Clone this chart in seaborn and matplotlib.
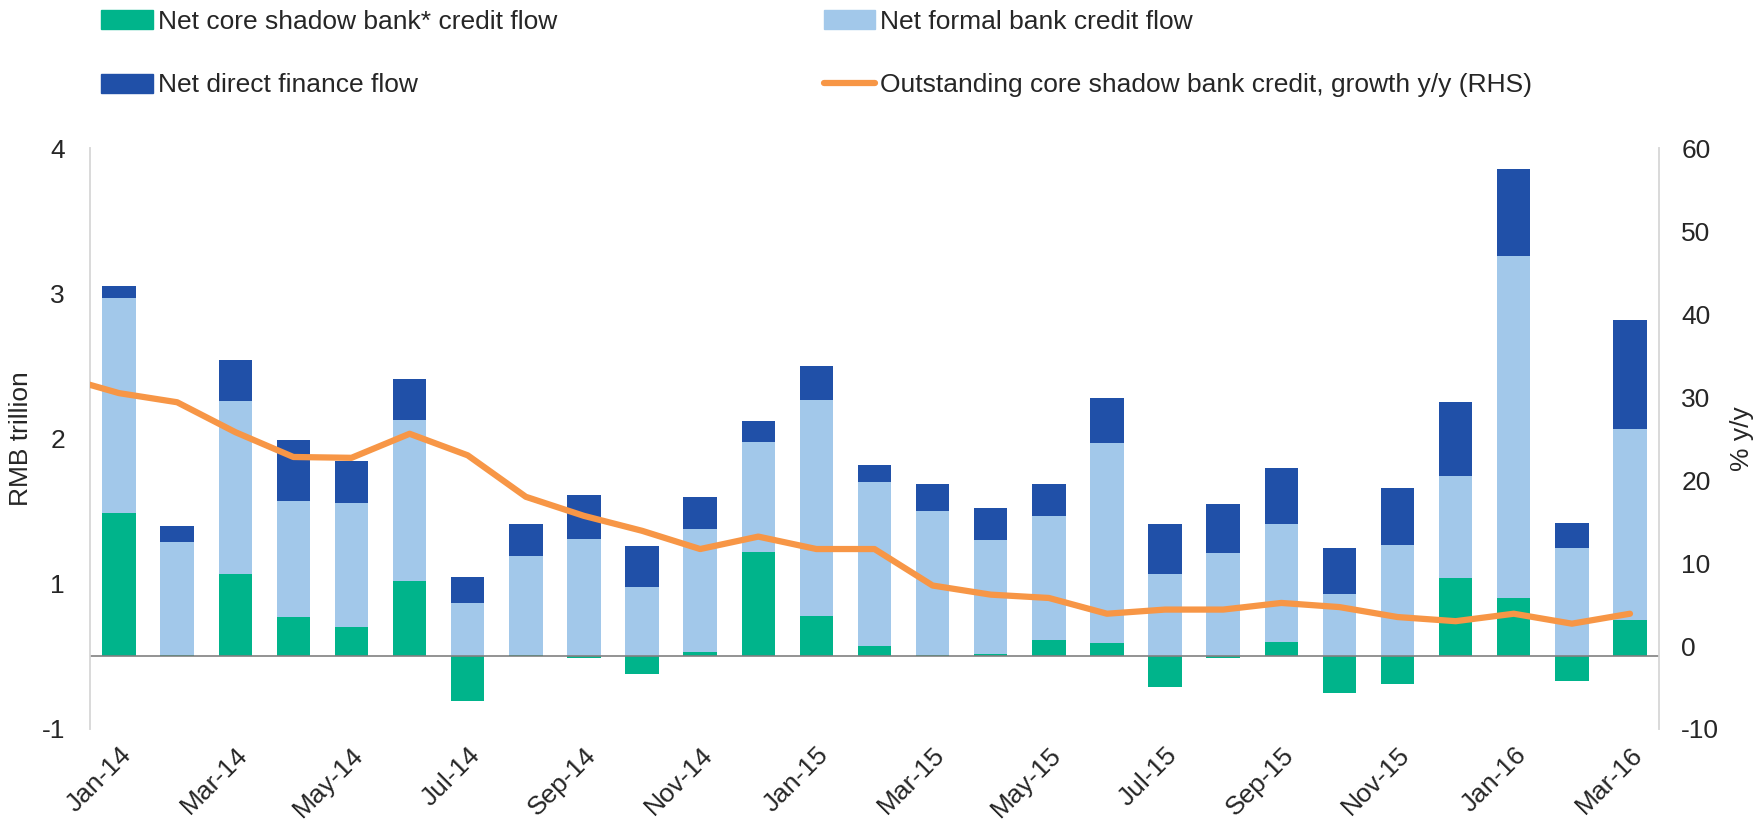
import numpy as np
import pandas as pd
import matplotlib
matplotlib.use("Agg")
import matplotlib.pyplot as plt
from matplotlib.patches import Patch
from matplotlib.lines import Line2D
import seaborn as sns

# Monthly credit flows, RMB trillion
months = ["Jan-14", "Feb-14", "Mar-14", "Apr-14", "May-14", "Jun-14", "Jul-14",
          "Aug-14", "Sep-14", "Oct-14", "Nov-14", "Dec-14", "Jan-15", "Feb-15",
          "Mar-15", "Apr-15", "May-15", "Jun-15", "Jul-15", "Aug-15", "Sep-15",
          "Oct-15", "Nov-15", "Dec-15", "Jan-16", "Feb-16", "Mar-16"]
shadow_flow = [0.99, 0.01, 0.57, 0.27, 0.20, 0.52, -0.31,
               0.01, -0.01, -0.12, 0.03, 0.72, 0.28, 0.07,
               0.01, 0.02, 0.11, 0.09, -0.21, -0.01, 0.10,
               -0.25, -0.19, 0.54, 0.40, -0.17, 0.25]
formal_flow = [1.48, 0.78, 1.19, 0.80, 0.86, 1.11, 0.37,
               0.68, 0.81, 0.48, 0.85, 0.76, 1.49, 1.13,
               0.99, 0.78, 0.86, 1.38, 0.57, 0.71, 0.81,
               0.43, 0.77, 0.70, 2.36, 0.75, 1.32]
direct_flow = [0.08, 0.11, 0.28, 0.42, 0.29, 0.28, 0.18,
               0.22, 0.30, 0.28, 0.22, 0.14, 0.23, 0.12,
               0.19, 0.22, 0.22, 0.31, 0.34, 0.34, 0.39,
               0.32, 0.39, 0.51, 0.60, 0.17, 0.75]

# Outstanding core shadow bank credit, % y/y (series starts Dec-13)
growth_months = ["Dec-13"] + months
growth_yoy = [32.5, 30.5, 29.4, 25.8, 22.8, 22.7, 25.6, 23.0,
              18.0, 15.7, 13.9, 11.7, 13.2, 11.7, 11.7,
              7.3, 6.2, 5.8, 3.9, 4.4, 4.4, 5.2,
              4.7, 3.5, 3.0, 3.9, 2.7, 3.9]

# Left axis ticks and the labels printed on them
left_ticks = [-0.5, 0.5, 1.5, 2.5, 3.5]
left_tick_labels = ["-1", "1", "2", "3", "4"]
right_ticks = [-10, 0, 10, 20, 30, 40, 50, 60]
xtick_labels = months[::2]

GREEN = "#00B48B"
LIGHT = "#A2C8EA"
DARK = "#2050A8"
ORANGE = "#F79646"

sns.set_theme(style="white")
plt.rcParams["font.family"] = ["Liberation Sans", "DejaVu Sans"]
FS = 19

df = pd.DataFrame({"month": months, "shadow": shadow_flow,
                   "formal": formal_flow, "direct": direct_flow})
df["formal_base"] = df["shadow"].clip(lower=0)
df["direct_base"] = df["formal_base"] + df["formal"]

fig = plt.figure(figsize=(17.64, 8.24), dpi=100)
ax = fig.add_axes([0.051, 0.1153, 0.8895, 0.7045])

bw = 0.575
sns.barplot(data=df, x="month", y="shadow", color=GREEN, saturation=1,
            width=bw, errorbar=None, ax=ax, linewidth=0)
sns.barplot(data=df, x="month", y="formal", bottom=df["formal_base"], color=LIGHT,
            saturation=1, width=bw, errorbar=None, ax=ax, linewidth=0)
sns.barplot(data=df, x="month", y="direct", bottom=df["direct_base"], color=DARK,
            saturation=1, width=bw, errorbar=None, ax=ax, linewidth=0)

ax.axhline(0, color="#808080", lw=1.2, zorder=3)
ax.set_xlim(-0.5, len(months) - 0.5)
ax.set_ylim(-0.5, 3.5)
ax.set_yticks(left_ticks)
ax.set_yticklabels(left_tick_labels, fontsize=FS)
ax.set_xticks(np.arange(0, len(months), 2))
ax.set_xticklabels(xtick_labels, rotation=45, ha="right", rotation_mode="anchor",
                   fontsize=FS)
ax.tick_params(axis="x", length=0, pad=10)
ax.tick_params(axis="y", length=0, pad=18)
ax.set_xlabel("")
ax.set_ylabel("RMB trillion", fontsize=FS)
ax.yaxis.set_label_coords(-0.036, 0.5)

ax2 = ax.twinx()
gx = np.arange(-1, len(months))
sns.lineplot(x=gx, y=growth_yoy, color=ORANGE, lw=4.5, ax=ax2, zorder=5)
ax2.set_xlim(-0.5, len(months) - 0.5)
ax2.set_ylim(-10, 60)
ax2.set_yticks(right_ticks)
ax2.set_yticklabels([str(t) for t in right_ticks], fontsize=FS)
ax2.tick_params(axis="y", length=0, pad=16)
ax2.set_ylabel("% y/y", fontsize=FS)
ax2.yaxis.set_label_coords(1.0455, 0.5)

for a in (ax, ax2):
    a.spines["top"].set_visible(False)
    a.spines["bottom"].set_visible(False)
    a.spines["left"].set_color("#D9D9D9")
    a.spines["right"].set_color("#D9D9D9")
    a.spines["left"].set_linewidth(1.2)
    a.spines["right"].set_linewidth(1.2)
    a.grid(False)

handles = [Patch(color=GREEN), Patch(color=DARK), Patch(color=LIGHT),
           Line2D([], [], color=ORANGE, lw=4.5)]
labels = ["Net core shadow bank* credit flow", "Net direct finance flow",
          "Net formal bank credit flow",
          "Outstanding core shadow bank credit, growth y/y (RHS)"]
fig.legend(handles, labels, ncol=2, loc="upper left",
           bbox_to_anchor=(0.0573, 0.988), frameon=False, fontsize=FS,
           handlelength=1.95, handleheight=0.72, handletextpad=0.2,
           columnspacing=10.1, labelspacing=1.5, borderaxespad=0, borderpad=0)

fig.savefig("out.png", dpi=100)
